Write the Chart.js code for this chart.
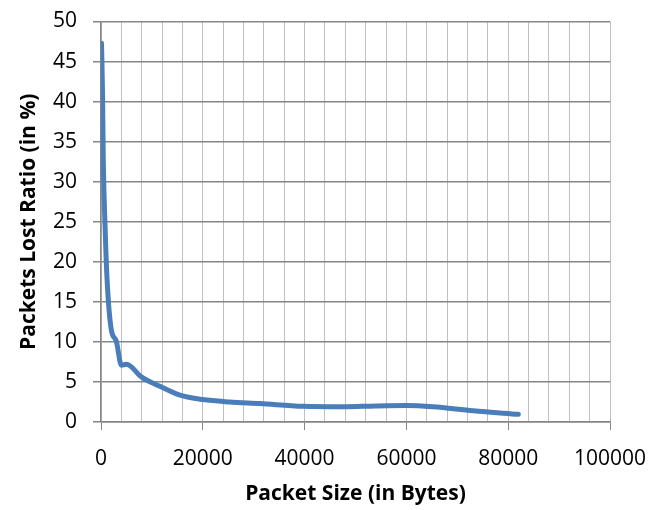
<!DOCTYPE html>
<html>
<head>
<meta charset="utf-8">
<script src="https://cdn.jsdelivr.net/npm/chart.js@4/dist/chart.umd.min.js"></script>
<style>
  html, body { margin: 0; padding: 0; background: #ffffff; }
  #wrap { width: 668px; height: 510px; }
</style>
</head>
<body>
<div id="wrap"><canvas id="chart" width="668" height="510"></canvas></div>
<script>
// Packet loss measurements: packet size (bytes) vs. share of packets lost (%)
const packetSizes = [100, 300, 450, 800, 1200, 2000, 3000, 4000, 5000, 8000, 11600, 15500, 20000, 25300, 31200, 39700, 47600, 54000, 60000, 65200, 73100, 82000];
const lossRatio   = [47.3, 41.2, 32.7, 24.4, 17.7, 11.6, 10.1, 7.1, 7.2, 5.6, 4.45, 3.35, 2.8, 2.5, 2.3, 1.96, 1.9, 2.0, 2.05, 1.9, 1.4, 0.96];

// Axis ranges and tick spacing
const xRange = [0, 100000];
const xLabelStep = 20000;
const xGridStep = 4000;
const yRange = [0, 50];
const yStep = 5;

const xTitle = 'Packet Size (in Bytes)';
const yTitle = 'Packets Lost Ratio (in %)';

const points = packetSizes.map((x, i) => ({ x: x, y: lossRatio[i] }));

const FONT = '"Open Sans", "Liberation Sans", sans-serif';
const DARK = '#868686';
const LIGHT = '#bfbfbf';

new Chart(document.getElementById('chart'), {
  type: 'line',
  data: {
    datasets: [{
      data: points,
      borderColor: '#4a7ebb',
      borderWidth: 5,
      pointRadius: 0,
      fill: false,
      cubicInterpolationMode: 'monotone',
      borderCapStyle: 'round',
      borderJoinStyle: 'round'
    }]
  },
  options: {
    responsive: false,
    animation: false,
    events: [],
    layout: { padding: 0 },
    plugins: { legend: { display: false }, tooltip: { enabled: false } },
    scales: {
      x: {
        type: 'linear',
        min: xRange[0],
        max: xRange[1],
        afterFit: s => { s.height = 88; s.paddingRight = 58; s.paddingLeft = 0; },
        ticks: {
          stepSize: xGridStep,
          autoSkip: false,
          maxRotation: 0,
          padding: 16,
          color: '#000000',
          font: { family: FONT, size: 21 },
          callback: v => (v % xLabelStep === 0 ? String(v) : '')
        },
        grid: {
          color: LIGHT,
          lineWidth: 1,
          tickLength: 8,
          tickColor: ctx => (ctx.tick && ctx.tick.value % xLabelStep === 0 ? DARK : 'rgba(0,0,0,0)')
        },
        border: { color: DARK, width: 1.5 },
        title: {
          display: true,
          text: xTitle,
          color: '#000000',
          font: { family: FONT, size: 21, weight: 'bold' },
          padding: { top: 0, bottom: 3 }
        }
      },
      y: {
        min: yRange[0],
        max: yRange[1],
        afterFit: s => { s.width = 101; s.paddingTop = 21.5; s.paddingBottom = 0; },
        ticks: {
          stepSize: yStep,
          padding: 16,
          color: '#000000',
          font: { family: FONT, size: 21 }
        },
        grid: {
          color: DARK,
          lineWidth: 1.5,
          tickLength: 8,
          tickColor: DARK
        },
        border: { color: DARK, width: 1.5 },
        title: {
          display: true,
          text: yTitle,
          color: '#000000',
          font: { family: FONT, size: 21, weight: 'bold' },
          padding: { top: 16, bottom: 0 }
        }
      }
    }
  }
});
</script>
</body>
</html>
